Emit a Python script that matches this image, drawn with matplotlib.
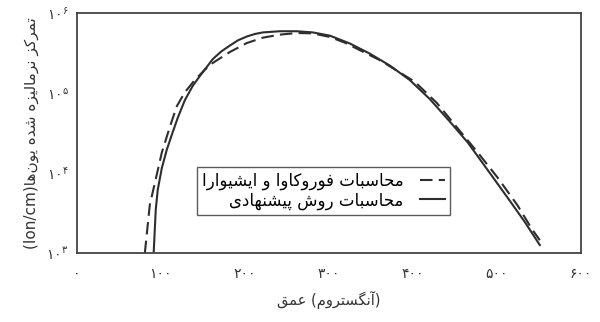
import matplotlib
matplotlib.use('Agg')
import matplotlib.pyplot as plt

# depth (angstrom) and normalized ion concentration (Ion/cm)
depth_proposed = [91.5, 94.0, 96.4, 101.2, 107.1, 113.1, 120.2, 128.6, 138.1, 146.4,
                  161.9, 172.0, 182.1, 192.0, 202.4, 212.0, 221.4, 241.7, 261.9, 281.0,
                  301.2, 325.0, 348.8, 372.6, 396.4, 420.2, 444.0, 465.5, 491.7, 515.5,
                  533.3, 551.2]
conc_proposed = [1.0e3, 3.5e3, 6.2e3, 1.15e4, 1.95e4, 3.0e4, 4.9e4, 8.1e4, 1.23e5, 1.62e5,
                 2.65e5, 3.3e5, 3.9e5, 4.55e5, 5.07e5, 5.45e5, 5.7e5, 5.9e5, 5.9e5, 5.7e5,
                 5.2e5, 4.15e5, 3.1e5, 2.2e5, 1.45e5, 8.4e4, 4.4e4, 2.4e4, 1.0e4, 4.5e3,
                 2.45e3, 1.26e3]

depth_furukawa = [81.0, 86.9, 92.9, 101.2, 110.7, 119.0, 128.6, 140.5, 152.4, 161.9,
                  182.1, 202.4, 221.4, 241.7, 261.9, 281.0, 301.2, 319.0, 360.7,
                  402.4, 428.6, 453.6, 477.4, 501.2, 525.0, 541.7, 551.2]
conc_furukawa = [1.0e3, 4.0e3, 7.5e3, 1.8e4, 3.75e4, 6.8e4, 1.02e5, 1.45e5, 1.95e5, 2.37e5,
                 3.24e5, 4.2e5, 4.9e5, 5.35e5, 5.6e5, 5.55e5, 5.0e5, 4.25e5, 2.57e5,
                 1.38e5, 7.5e4, 3.6e4, 1.8e4, 8.7e3, 3.9e3, 2.0e3, 1.45e3]

x_ticks = [0, 100, 200, 300, 400, 500, 600]
x_tick_labels = ['۰', '۱۰۰', '۲۰۰', '۳۰۰', '۴۰۰', '۵۰۰', '۶۰۰']
y_ticks = [1e3, 1e4, 1e5, 1e6]
y_tick_labels = [r'$\mathregular{۱۰^{۳}}$', r'$\mathregular{۱۰^{۴}}$',
                 r'$\mathregular{۱۰^{۵}}$', r'$\mathregular{۱۰^{۶}}$']

label_furukawa = 'محاسبات فوروکاوا و ایشیوارا'
label_proposed = 'محاسبات روش پیشنهادی'
x_title = ['عمق', '(آنگستروم)']
y_title = 'تمرکز نرمالیزه شده یون‌ها'
y_unit = '(Ion/cm)'

# contextual forms: isolated, final, initial, medial (None = joins only to the right)
FORMS = {
    'ا': ('\uFE8D', '\uFE8E', None, None),
    'آ': ('\uFE81', '\uFE82', None, None),
    'ب': ('\uFE8F', '\uFE90', '\uFE91', '\uFE92'),
    'پ': ('\uFB56', '\uFB57', '\uFB58', '\uFB59'),
    'ت': ('\uFE95', '\uFE96', '\uFE97', '\uFE98'),
    'ح': ('\uFEA1', '\uFEA2', '\uFEA3', '\uFEA4'),
    'د': ('\uFEA9', '\uFEAA', None, None),
    'ر': ('\uFEAD', '\uFEAE', None, None),
    'ز': ('\uFEAF', '\uFEB0', None, None),
    'س': ('\uFEB1', '\uFEB2', '\uFEB3', '\uFEB4'),
    'ش': ('\uFEB5', '\uFEB6', '\uFEB7', '\uFEB8'),
    'ع': ('\uFEC9', '\uFECA', '\uFECB', '\uFECC'),
    'ف': ('\uFED1', '\uFED2', '\uFED3', '\uFED4'),
    'ق': ('\uFED5', '\uFED6', '\uFED7', '\uFED8'),
    'ک': ('\uFB8E', '\uFB8F', '\uFB90', '\uFB91'),
    'گ': ('\uFB92', '\uFB93', '\uFB94', '\uFB95'),
    'ل': ('\uFEDD', '\uFEDE', '\uFEDF', '\uFEE0'),
    'م': ('\uFEE1', '\uFEE2', '\uFEE3', '\uFEE4'),
    'ن': ('\uFEE5', '\uFEE6', '\uFEE7', '\uFEE8'),
    'ه': ('\uFEE9', '\uFEEA', '\uFEEB', '\uFEEC'),
    'و': ('\uFEED', '\uFEEE', None, None),
    'ی': ('\uFBFC', '\uFBFD', '\uFBFE', '\uFBFF'),
}


def rtl(text):
    out = []
    for i, c in enumerate(text):
        if c not in FORMS:
            if c != '\u200c':
                out.append(c)
            continue
        prev = text[i - 1] if i > 0 else ''
        nxt = text[i + 1] if i + 1 < len(text) else ''
        iso, fin, ini, med = FORMS[c]
        join_prev = prev in FORMS and FORMS[prev][2] is not None
        join_next = nxt in FORMS and ini is not None
        if join_prev and join_next:
            out.append(med)
        elif join_prev:
            out.append(fin)
        elif join_next:
            out.append(ini)
        else:
            out.append(iso)
    s = ''.join(out)[::-1]
    return s.translate(str.maketrans('()', ')('))


plt.rcParams['font.family'] = ['DejaVu Sans']
ink = '#2e2e2e'

fig = plt.figure(figsize=(6, 3.22), dpi=100)
ax = fig.add_axes([0.128, 0.214, 0.84, 0.746])

ax.plot(depth_furukawa, conc_furukawa, color=ink, lw=1.5, dashes=(6, 3),
        label=rtl(label_furukawa))
ax.plot(depth_proposed, conc_proposed, color=ink, lw=1.5,
        label=rtl(label_proposed))

ax.set_yscale('log')
ax.set_xlim(0, 600)
ax.set_ylim(1e3, 1e6)
ax.set_xticks(x_ticks)
ax.set_xticklabels(x_tick_labels, fontsize=10, color='#333333')
ax.set_yticks(y_ticks)
ax.set_yticklabels(y_tick_labels, fontsize=10, color='#333333')
ax.minorticks_off()
ax.tick_params(length=0)
ax.tick_params(axis='x', pad=10)
ax.tick_params(axis='y', pad=6)

for sp in ax.spines.values():
    sp.set_color('#444444')
    sp.set_linewidth(1.3)

ax.set_xlabel(rtl(x_title[0]) + ' ' + rtl(x_title[1]), fontsize=10.5,
              color='#333333', labelpad=7)
ax.set_ylabel(y_unit + rtl(y_title), fontsize=11, color='#333333', labelpad=5)

leg = ax.legend(loc='lower left', bbox_to_anchor=(0.238, 0.16), borderaxespad=0,
                markerfirst=False, fancybox=False, fontsize=12, handlelength=1.5,
                borderpad=0.3, labelspacing=0.05, handletextpad=1.0)
leg.get_frame().set_edgecolor('#333333')
leg.get_frame().set_linewidth(1.0)

fig.savefig('out.png', dpi=100)
